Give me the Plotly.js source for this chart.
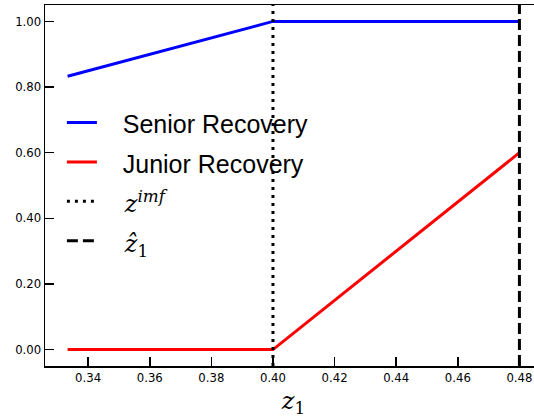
<!DOCTYPE html>
<html><head><meta charset="utf-8">
<script src="https://cdn.plot.ly/plotly-3.0.1.min.js"></script>
<style>html,body{margin:0;padding:0;overflow:hidden;background:#fff;width:534px;height:419px}</style>
</head><body><div id="chart"></div>
<script>
// Data
const zValues = [1/3, 0.40, 0.48];
const seniorRecovery = [0.833, 1.00, 1.00];
const juniorRecovery = [0.00, 0.00, 0.60];
const zImf = 0.40;
const zHat1 = 0.48;
const xTicks = [0.34, 0.36, 0.38, 0.40, 0.42, 0.44, 0.46, 0.48];
const yTicks = [0.00, 0.20, 0.40, 0.60, 0.80, 1.00];
const xRange = [0.32600, 0.48733];
const yRange = [-0.05, 1.05];

const sp = '\u00a0\u00a0\u00a0';
const lt = (s) => '<span style="font-size:25px">' + sp + s + '</span>';
const serif = (s) => '<span style="font-family:\'DejaVu Serif\';font-size:24px">' + sp + s + '</span>';

const traces = [
  {x: zValues, y: seniorRecovery, mode: 'lines', line: {color: '#0000ff', width: 3}, name: lt('Senior Recovery')},
  {x: zValues, y: juniorRecovery, mode: 'lines', line: {color: '#ff0000', width: 3}, name: lt('Junior Recovery')},
  {x: [zImf, zImf], y: yRange, mode: 'lines', line: {color: '#000', width: 3, dash: '3px,5px'}, name: serif('<i>z</i><sup><i>imf</i></sup>')},
  {x: [zHat1, zHat1], y: yRange, mode: 'lines', line: {color: '#000', width: 3, dash: '11px,5px'}, name: serif('<i>z\u0302</i><sub>1</sub>')}
];

const layout = {
  width: 544, height: 419,
  margin: {l: 45, r: 2, t: 5, b: 53},
  paper_bgcolor: '#fff', plot_bgcolor: '#fff',
  showlegend: true,
  legend: {x: 0.034, y: 0.743, xanchor: 'left', yanchor: 'top', bgcolor: 'rgba(255,255,255,0)', borderwidth: 0,
           font: {family: 'Liberation Sans', size: 28, color: '#000'}},
  xaxis: {range: xRange, tickvals: xTicks, ticktext: xTicks.map(v => v.toFixed(2)),
          showgrid: false, zeroline: false, showline: true, linecolor: '#000', linewidth: 1.5, mirror: true,
          ticks: 'inside', ticklen: 9, tickwidth: 1.6, tickcolor: '#000',
          tickfont: {family: 'DejaVu Sans', size: 11.7, color: '#000'},
          title: {text: '<i>z</i><sub>1</sub>', font: {family: 'DejaVu Serif', size: 24, color: '#000'}, standoff: 8}},
  yaxis: {range: yRange, tickvals: yTicks, ticktext: yTicks.map(v => v.toFixed(2)),
          showgrid: false, zeroline: false, showline: true, linecolor: '#000', linewidth: 1.5,
          ticks: 'inside', ticklen: 9, tickwidth: 1.6, tickcolor: '#000',
          tickfont: {family: 'DejaVu Sans', size: 11.7, color: '#000'}}
};
Plotly.newPlot('chart', traces, layout, {displayModeBar: false, staticPlot: true});
</script></body></html>
